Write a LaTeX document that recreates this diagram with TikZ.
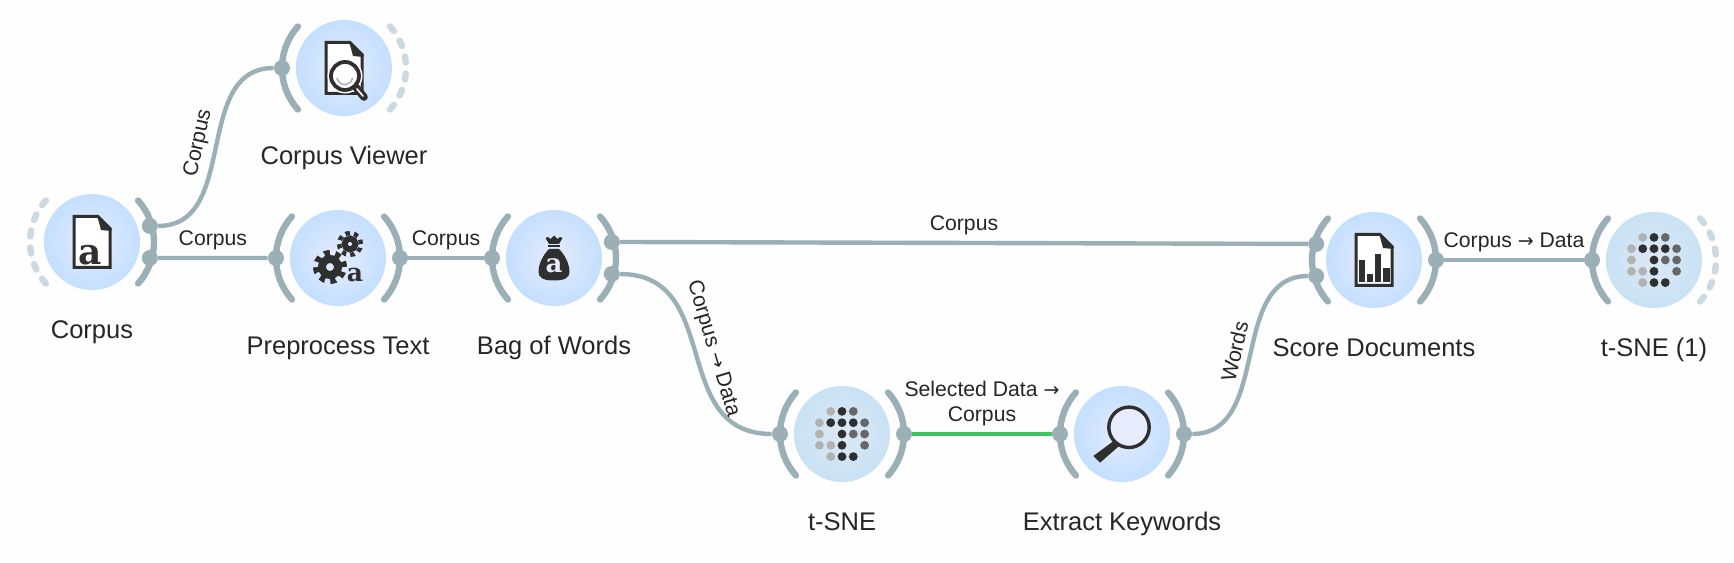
\documentclass[tikz,border=0pt]{standalone}
\usepackage{fontspec}
\setmainfont{Liberation Sans}
\newfontfamily\iconfont{DejaVu Serif}
\newfontfamily\arrowfont{DejaVu Sans}
\usetikzlibrary{calc}

\definecolor{channel}{HTML}{9BAFB6}
\definecolor{freechannel}{HTML}{CBD9E0}
\definecolor{goodlink}{HTML}{40C463}
\definecolor{inkdark}{HTML}{2F2F2F}
\definecolor{inkmid}{HTML}{676767}
\definecolor{inklight}{HTML}{B2B2B0}
\definecolor{textdark}{HTML}{262626}
\definecolor{paper}{HTML}{FDFEFD}
\definecolor{blobin}{HTML}{E6ECFC}
\definecolor{blobout}{HTML}{C4DFFF}
\definecolor{tsnein}{HTML}{DDE8F4}
\definecolor{tsneout}{HTML}{C8E2F4}

\newcommand{\chanleft}[1]{\draw[chan] ($(#1)+(138:31pt)$) arc (138:222:31pt);}
\newcommand{\chanright}[1]{\draw[chan] ($(#1)+(42:31pt)$) arc (42:-42:31pt);}
\newcommand{\freeleft}[1]{\draw[freechan] ($(#1)+(138:31pt)$) arc (138:222:31pt);}
\newcommand{\freeright}[1]{\draw[freechan] ($(#1)+(42:31pt)$) arc (42:-42:31pt);}
\newcommand{\arr}{{\arrowfont\fontsize{9.5}{9.5}\selectfont →}}

\tikzset{
  main/.style = {circle, minimum size=48pt, inner sep=0pt, shading=radial, inner color=blobin, outer color=blobout},
  tsne/.style = {circle, minimum size=48pt, inner sep=0pt, shading=radial, inner color=tsnein, outer color=tsneout},
  chan/.style = {draw=channel, line width=3.2pt, line cap=round},
  freechan/.style = {draw=freechannel, line width=3.2pt, line cap=round, dash pattern=on 3pt off 5.49pt},
  port/.style = {circle, fill=channel, minimum size=8pt, inner sep=0pt},
  link/.style = {draw=channel, line width=2.2pt},
  goodwire/.style = {draw=goodlink, line width=2.2pt},
  widgettext/.style = {font=\fontsize{12.75}{15}\selectfont, text=textdark, text height=9pt, text depth=1.3pt, inner sep=0pt},
  edgetext/.style = {font=\fontsize{10.6}{12.5}\selectfont, text=textdark, inner sep=3pt},
  letter/.style = {font=\iconfont\bfseries\fontsize{#1}{#1}\selectfont, text=inkdark, inner sep=0pt},
  docicon/.pic = {
    \draw[inkdark, fill=white, line width=1.5pt, line join=miter] (-18,25.5) -- (6,25.5) -- (18,13.5) -- (18,-25.5) -- (-18,-25.5) -- cycle;
    \fill[inkdark] (5,27) -- (20,13) -- (19,11) -- (9,12) -- cycle;
  },
  corpusicon/.pic = {
    \pic at (0,0) {docicon};
    \node[letter=18] (-a) at (-2,-13) {a};
  },
  viewericon/.pic = {
    \pic at (0,0) {docicon};
    \draw[paper, line width=1.5pt] (1,-8) circle (16);
    \draw[inkdark, line width=3.8pt, line cap=round] (10,-17) -- (20,-29);
    \draw[white, line width=.8pt, line cap=round] (13,-21) -- (19,-28);
    \draw[inkdark, fill=white, line width=1.9pt] (1,-8) circle (14);
    \draw[inklight, line width=.8pt] (-7,-10) arc (190:350:8);
  },
  gear/.pic = {
    \draw[inkdark, line width=4pt] (0,0) circle (8);
    \draw[inkdark, line width=3pt, dash pattern=on 2.75pt off 2.75pt] (0,0) circle (14);
  },
  smallgear/.pic = {
    \draw[inkdark, line width=3pt] (0,0) circle (5.5);
    \draw[inkdark, line width=2.2pt, dash pattern=on 2.16pt off 2.16pt] (0,0) circle (11);
  },
  preprocessicon/.pic = {
    \pic at (-8,-9) {gear};
    \pic at (12,14) {smallgear};
    \node[letter=12.5] (-a) at (17,-17) {a};
  },
  bagicon/.pic = {
    \fill[inkdark] (-5,9) .. controls (-11,3) and (-15.5,-6) .. (-15.5,-14) .. controls (-15.5,-20) and (-10,-22.5) .. (0,-22.5) .. controls (10,-22.5) and (15.5,-20) .. (15.5,-14) .. controls (15.5,-6) and (11,3) .. (5,9) -- cycle;
    \fill[inkdark] (-6,11) rectangle (6,13);
    \fill[inkdark] (-5,14) -- (-8.5,20) -- (-6,21) -- (-3.5,19) -- (0,22.5) -- (3.5,19) -- (6,21) -- (8.5,20) -- (5,14) -- cycle;
    \node[letter=13, text=blobin] (-a) at (0,-7.5) {a};
  },
  tsneicon/.pic = {
    \fill[inklight] (-11.3,22.6) circle (4.4) (-22.6,11.3) circle (4.4) (-22.6,0) circle (4.4) (-22.6,-11.3) circle (4.4) (-11.3,-11.3) circle (4.4) (-11.3,-22.6) circle (4.4);
    \fill[inkmid] (11.3,22.6) circle (4.4) (22.6,11.3) circle (4.4) (11.3,0) circle (4.4) (22.6,0) circle (4.4) (22.6,-11.3) circle (4.4);
    \fill[inkdark] (0,22.6) circle (4.4) (-11.3,11.3) circle (4.4) (0,11.3) circle (4.4) (11.3,11.3) circle (4.4) (0,0) circle (4.4) (0,-11.3) circle (4.4) (0,-22.6) circle (4.4) (11.3,-22.6) circle (4.4);
  },
  keywordicon/.pic = {
    \fill[inkdark] (-28.7,-22) -- (-5.3,-4.7) -- (-1,-10.3) -- (-22,-28.7) -- cycle;
    \draw[inkdark, fill=blobin, line width=1.7pt] (7,6.7) circle (20.2);
  },
  scoreicon/.pic = {
    \pic at (0,0) {docicon};
    \fill[inkdark] (-15.5,-22) rectangle (-9,0);
    \fill[inkdark] (-7,-22) rectangle (-.7,-13.7);
    \fill[inkdark] (1,-22) rectangle (7,5.7);
    \fill[inkdark] (8.7,-22) rectangle (15.5,-7.7);
  },
}

\begin{document}
\begin{tikzpicture}[x=0.5pt, y=0.5pt]
    \path[use as bounding box, fill=paper] (0,0) rectangle (1734,562);

    \node[main] (corpus) at (92,320) {};
    \node[main] (viewer) at (344,494) {};
    \node[main] (prep) at (338,304) {};
    \node[main, node distance=108pt] (bag) [right of=prep] {};
    \node[tsne] (tsneleft) at (842,128) {};
    \node[main, node distance=140pt] (keywords) [right of=tsneleft] {};
    \node[main] (score) at (1374,302) {};
    \node[tsne, node distance=140pt] (tsneright) [right of=score] {};

    \freeleft{corpus}
    \chanright{corpus}
    \chanleft{viewer}
    \freeright{viewer}
    \chanleft{prep}
    \chanright{prep}
    \chanleft{bag}
    \chanright{bag}
    \chanleft{tsneleft}
    \chanright{tsneleft}
    \chanleft{keywords}
    \chanright{keywords}
    \chanleft{score}
    \chanright{score}
    \chanleft{tsneright}
    \freeright{tsneright}

    \node[port] (corpusout1) at ($(corpus)+(15.5:30pt)$) {};
    \node[port] (corpusout2) at ($(corpus)+(-15.5:30pt)$) {};
    \node[port] (viewerin) at ($(viewer)+(180:31pt)$) {};
    \node[port] (prepin) at ($(prep)+(180:31pt)$) {};
    \node[port] (prepout) at ($(prep)+(0:31pt)$) {};
    \node[port] (bagin) at ($(bag)+(180:31pt)$) {};
    \node[port] (bagout1) at ($(bag)+(15.5:30pt)$) {};
    \node[port] (bagout2) at ($(bag)+(-15.5:30pt)$) {};
    \node[port] (tsneleftin) at ($(tsneleft)+(180:31pt)$) {};
    \node[port] (tsneleftout) at ($(tsneleft)+(0:31pt)$) {};
    \node[port] (keywordsin) at ($(keywords)+(180:31pt)$) {};
    \node[port] (keywordsout) at ($(keywords)+(0:31pt)$) {};
    \node[port] (scorein1) at ($(score)+(164.5:30pt)$) {};
    \node[port] (scorein2) at ($(score)+(195.5:30pt)$) {};
    \node[port] (scoreout) at ($(score)+(0:31pt)$) {};
    \node[port] (tsnerightin) at ($(tsneright)+(180:31pt)$) {};

    \draw[link] (corpusout1) .. controls +(90,0) and +(-90,0) .. (viewerin) node[edgetext, midway, sloped, above] (wire1) {Corpus};
    \draw[link] (corpusout2) -- (prepin) node[edgetext, midway, above] (wire2) {Corpus};
    \draw[link] (prepout) -- (bagin) node[edgetext, midway, above] (wire3) {Corpus};
    \draw[link] (bagout1) -- (scorein1) node[edgetext, midway, above] (wire4) {Corpus};
    \draw[link] (bagout2) .. controls +(112,0) and +(-112,0) .. (tsneleftin) node[edgetext, midway, sloped, above] (wire5) {Corpus \arr{} Data};
    \draw[goodwire] (tsneleftout) -- (keywordsin) node[edgetext, midway, above, align=center] (wire6) {Selected Data \arr\\Corpus};
    \draw[link] (keywordsout) .. controls +(88,0) and +(-88,0) .. (scorein2) node[edgetext, midway, sloped, above] (wire7) {Words};
    \draw[link] (scoreout) -- (tsnerightin) node[edgetext, midway, above] (wire8) {Corpus \arr{} Data};

    \pic (corpusicon) at (corpus) {corpusicon};
    \pic (viewericon) at (viewer) {viewericon};
    \pic (prepicon) at (prep) {preprocessicon};
    \pic (bagicon) at (bag) {bagicon};
    \pic (tsnelefticon) at (tsneleft) {tsneicon};
    \pic (keywordsicon) at (keywords) {keywordicon};
    \pic (scoreicon) at (score) {scoreicon};
    \pic (tsnerighticon) at (tsneright) {tsneicon};

    \node[widgettext, node distance=44.5pt] (corpustext) [below of=corpus] {Corpus};
    \node[widgettext, node distance=44.5pt] (viewertext) [below of=viewer] {Corpus Viewer};
    \node[widgettext, node distance=44.5pt] (preptext) [below of=prep] {Preprocess Text};
    \node[widgettext, node distance=44.5pt] (bagtext) [below of=bag] {Bag of Words};
    \node[widgettext, node distance=44.5pt] (tsnelefttext) [below of=tsneleft] {t-SNE};
    \node[widgettext, node distance=44.5pt] (keywordstext) [below of=keywords] {Extract Keywords};
    \node[widgettext, node distance=44.5pt] (scoretext) [below of=score] {Score Documents};
    \node[widgettext, node distance=44.5pt] (tsnerighttext) [below of=tsneright] {t-SNE (1)};
\end{tikzpicture}
\end{document}
